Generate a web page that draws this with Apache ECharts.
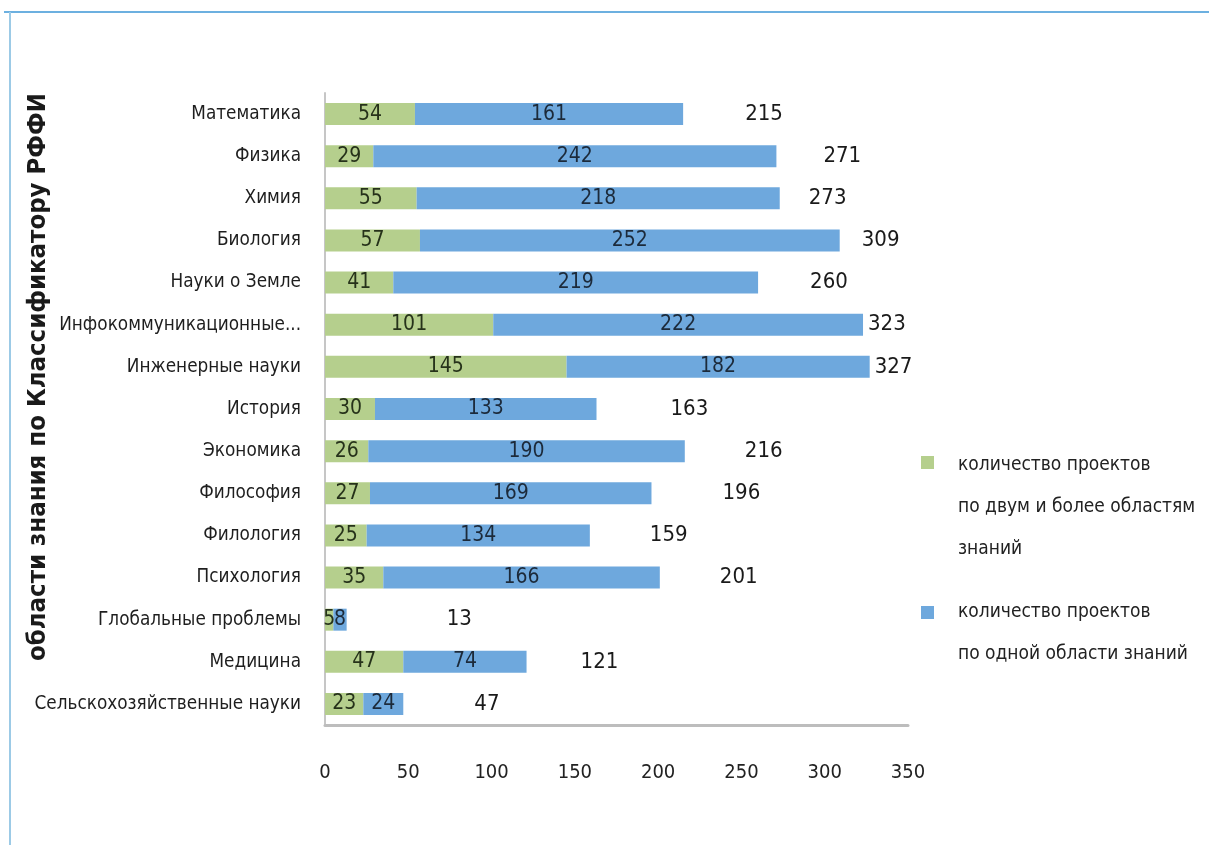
<!DOCTYPE html>
<html>
<head>
<meta charset="utf-8">
<style>
  html, body { margin: 0; padding: 0; background: #ffffff; }
  #chart { width: 1209px; height: 845px; }
</style>
<script src="https://cdn.jsdelivr.net/npm/echarts@6/dist/echarts.min.js"></script>
</head>
<body>
<div id="chart"></div>
<script>
// Области знания по классификатору РФФИ
const categories = [
  'Математика', 'Физика', 'Химия', 'Биология', 'Науки о Земле',
  'Инфокоммуникационные...', 'Инженерные науки', 'История', 'Экономика',
  'Философия', 'Филология', 'Психология', 'Глобальные проблемы',
  'Медицина', 'Сельскохозяйственные науки'
];
// проекты по двум и более областям знаний
const multiField = [54, 29, 55, 57, 41, 101, 145, 30, 26, 27, 25, 35, 5, 47, 23];
// проекты по одной области знаний
const singleField = [161, 242, 218, 252, 219, 222, 182, 133, 190, 169, 134, 166, 8, 74, 24];
// итого по области
const totals = [215, 271, 273, 309, 260, 323, 327, 163, 216, 196, 159, 201, 13, 121, 47];
// x-axis ticks
const xTicks = [0, 50, 100, 150, 200, 250, 300, 350];

// horizontal gap (px) between each bar end and its total label
const totalLabelGap = [57, 42, 24, 17, 47, 0, 0, 69, 55, 66, 55, 55, 95, 49, 66];

const seriesNames = [
  'количество проектов\nпо двум и более областям\nзнаний',
  'количество проектов\nпо одной области знаний'
];

const FONT = '"Liberation Sans Narrow", "DejaVu Sans Condensed", "Liberation Sans", sans-serif';
const GREEN = '#b5cf8d';
const BLUE = '#6ea8dd';

const chart = echarts.init(document.getElementById('chart'), null, { renderer: 'canvas' });

const option = {
  backgroundColor: '#ffffff',
  animation: false,
  textStyle: { fontFamily: FONT },
  grid: { left: 325, right: 301, top: 93, bottom: 120 },
  xAxis: {
    type: 'value',
    min: xTicks[0],
    max: xTicks[xTicks.length - 1],
    interval: xTicks[1] - xTicks[0],
    splitLine: { show: false },
    axisTick: { show: false },
    axisLine: { show: true, lineStyle: { color: '#bdbdbd', width: 3 } },
    axisLabel: { color: '#222222', fontFamily: FONT, fontSize: 20, margin: 38 }
  },
  yAxis: {
    type: 'category',
    data: categories,
    inverse: true,
    axisTick: { show: false },
    axisLine: { show: true, lineStyle: { color: '#c6c6c6', width: 2 } },
    axisLabel: { color: '#1e1e1e', fontFamily: FONT, fontSize: 18.8, margin: 24 }
  },
  series: [
    {
      name: seriesNames[0],
      type: 'bar',
      stack: 'total',
      barWidth: 22,
      data: multiField,
      itemStyle: { color: GREEN },
      label: { show: true, position: 'inside', color: '#26321a', fontFamily: FONT, fontSize: 21 }
    },
    {
      name: seriesNames[1],
      type: 'bar',
      stack: 'total',
      barWidth: 22,
      data: singleField,
      itemStyle: { color: BLUE },
      label: { show: true, position: 'inside', color: '#1c2a3a', fontFamily: FONT, fontSize: 21 }
    },
    {
      name: 'итого',
      type: 'bar',
      barWidth: 22,
      barGap: '-100%',
      z: 1,
      data: totals.map((v, i) => ({
        value: v,
        label: { offset: [totalLabelGap[i], 0] }
      })),
      itemStyle: { color: 'rgba(0,0,0,0)' },
      label: { show: true, position: 'right', distance: 5, color: '#1a1a1a', fontFamily: FONT, fontSize: 22 }
    }
  ],
  graphic: [
    // frame
    { type: 'line', shape: { x1: 4, y1: 12, x2: 1209, y2: 12 }, style: { stroke: '#6cb0e0', lineWidth: 2 } },
    { type: 'line', shape: { x1: 10, y1: 12, x2: 10, y2: 845 }, style: { stroke: '#9ccae6', lineWidth: 2 } },
    // axis title
    {
      type: 'text',
      x: 38, y: 377,
      rotation: Math.PI / 2,
      style: {
        text: 'области знания по Классификатору РФФИ',
        fill: '#1a1a1a',
        font: 'bold 25.5px "DejaVu Sans Condensed", "DejaVu Sans", sans-serif',
        align: 'center',
        verticalAlign: 'middle'
      }
    },
    // legend
    { type: 'rect', shape: { x: 921, y: 456, width: 13, height: 13 }, style: { fill: GREEN } },
    {
      type: 'text', x: 958, y: 444,
      style: {
        text: seriesNames[0], fill: '#222222',
        font: '19px ' + FONT, lineHeight: 42, verticalAlign: 'top', align: 'left'
      }
    },
    { type: 'rect', shape: { x: 921, y: 606, width: 13, height: 13 }, style: { fill: BLUE } },
    {
      type: 'text', x: 958, y: 591,
      style: {
        text: seriesNames[1], fill: '#222222',
        font: '19px ' + FONT, lineHeight: 42, verticalAlign: 'top', align: 'left'
      }
    }
  ]
};

chart.setOption(option);
</script>
</body>
</html>
